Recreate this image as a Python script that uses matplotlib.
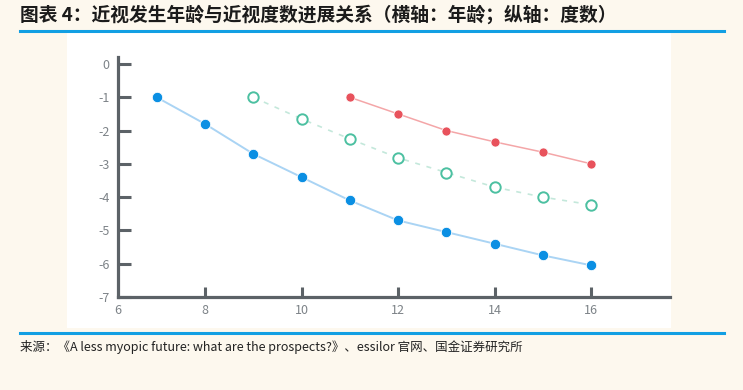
import matplotlib.pyplot as plt
from matplotlib.patches import Rectangle
from matplotlib.lines import Line2D

# data (age vs. diopters)
ages_blue = [7, 8, 9, 10, 11, 12, 13, 14, 15, 16]
blue_vals = [-1.0, -1.8, -2.7, -3.4, -4.1, -4.7, -5.05, -5.4, -5.75, -6.05]

ages_green = [9, 10, 11, 12, 13, 14, 15, 16]
green_vals = [-1.0, -1.65, -2.25, -2.82, -3.26, -3.7, -4.0, -4.23]

ages_red = [11, 12, 13, 14, 15, 16]
red_vals = [-1.0, -1.5, -2.0, -2.34, -2.65, -3.0]

x_ticks = [8, 10, 12, 14, 16]
y_ticks = [0, -1, -2, -3, -4, -5, -6, -7]

title = '图表 4：近视发生年龄与近视度数进展关系（横轴：年龄；纵轴：度数）'
source = '来源：《A less myopic future: what are the prospects?》、essilor 官网、国金证券研究所'

plt.rcParams['font.family'] = ['Noto Sans CJK SC', 'DejaVu Sans']

W, H = 743, 390
fig = plt.figure(figsize=(W / 100, H / 100), dpi=100, facecolor='#fdf8ee')

# white panel behind the chart
fig.add_artist(Rectangle((67 / W, 1 - 328 / H), (671 - 67) / W, (328 - 33) / H,
                         transform=fig.transFigure, facecolor='white',
                         edgecolor='none', zorder=0))

# blue rules
rule = '#129fe3'
fig.add_artist(Line2D([20 / W, 724 / W], [1 - 31 / H] * 2, color=rule, lw=2.2))
fig.add_artist(Line2D([20 / W, 724 / W], [1 - 333 / H] * 2, color=rule, lw=2.2))

fig.text(20 / W, 1 - 15 / H, title, fontsize=13.5, fontweight='bold',
         color='#1b1b1b', ha='left', va='center')
fig.text(20 / W, 1 - 347 / H, source, fontsize=9, color='#222222',
         ha='left', va='center')

ax = fig.add_axes([118 / W, 1 - 297 / H, (670 - 118) / W, (297 - 57) / H])
ax.set_facecolor('none')

ax.plot(ages_blue, blue_vals, '-', color='#aad4f4', lw=1.4, zorder=2)
ax.plot(ages_blue, blue_vals, 'o', color='#0b8fe3', ms=7.5, mec='white',
        mew=0.6, zorder=3)

ax.plot(ages_green, green_vals, '--', color='#c4e8db', lw=1.2,
        dashes=(3, 4), zorder=2)
ax.plot(ages_green, green_vals, 'o', mfc='white', mec='#4cc0a1', ms=7.5,
        mew=1.4, zorder=3)

ax.plot(ages_red, red_vals, '-', color='#f4a6a8', lw=1.1, zorder=2)
ax.plot(ages_red, red_vals, 'o', color='#e8525c', ms=6.5, mec='white',
        mew=0.5, zorder=3)

ax.set_xlim(6.2, 17.63)
ax.set_ylim(-7, 0.21)

spine_c = '#5c6267'
for s in ['top', 'right']:
    ax.spines[s].set_visible(False)
for s in ['left', 'bottom']:
    ax.spines[s].set_color(spine_c)
    ax.spines[s].set_linewidth(2.3)

ax.set_xticks(x_ticks)
ax.set_xticks([6.2], minor=True)
ax.set_xticklabels(['6'], minor=True)
ax.set_yticks(y_ticks)
ax.set_yticklabels([str(v) for v in y_ticks])

lab_c = '#7d8388'
ax.tick_params(axis='y', direction='in', length=9, width=2.2, color=spine_c,
               labelsize=9, labelcolor=lab_c, pad=6)
ax.tick_params(axis='x', which='major', direction='in', length=7.5, width=2.2,
               color=spine_c, labelsize=9, labelcolor=lab_c, pad=5)
ax.tick_params(axis='x', which='minor', direction='in', length=0,
               labelsize=9, labelcolor=lab_c, pad=5)

fig.savefig('out.png', dpi=100, facecolor=fig.get_facecolor())
